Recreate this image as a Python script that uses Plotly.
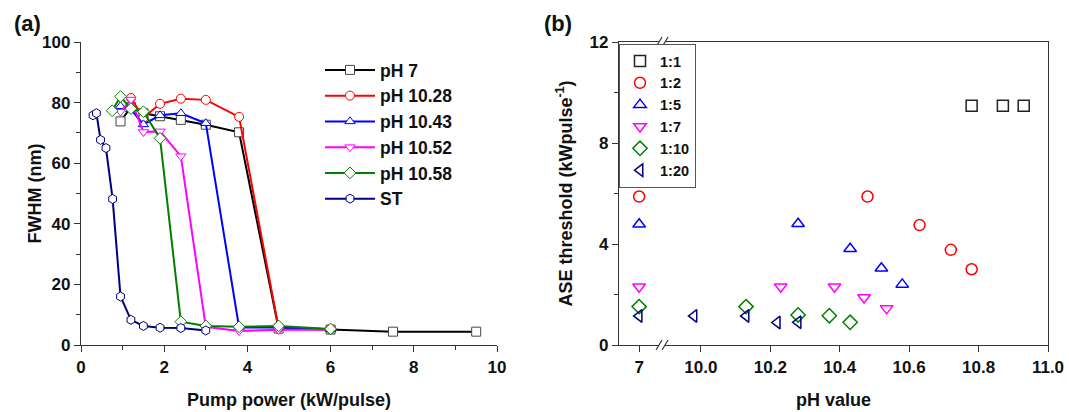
import plotly.graph_objects as go

# ---------------- Panel (a) data ----------------
pump_st = [0.29, 0.37, 0.47, 0.6, 0.76, 0.95, 1.2, 1.5, 1.9, 2.4, 3.0]
fwhm_st = [75.8, 76.5, 67.7, 65.0, 48.2, 16.0, 8.3, 6.3, 5.7, 5.6, 4.8]

pump_ph7 = [0.95, 1.2, 1.5, 1.9, 2.4, 3.0, 3.8, 4.75, 6.0, 7.5, 9.5]
fwhm_ph7 = [73.8, 78.5, 76.5, 75.5, 74.3, 72.7, 70.2, 5.4, 5.1, 4.4, 4.4]

pump_ph1028 = [1.2, 1.5, 1.9, 2.4, 3.0, 3.8, 4.75, 6.0]
fwhm_ph1028 = [81.5, 75.0, 79.6, 81.3, 80.9, 75.3, 5.6, 5.2]

pump_ph1043 = [0.95, 1.2, 1.5, 1.9, 2.4, 3.0, 3.8, 4.75, 6.0]
fwhm_ph1043 = [78.8, 77.8, 72.8, 75.8, 76.5, 73.2, 5.8, 5.8, 5.2]

pump_ph1052 = [0.95, 1.2, 1.5, 1.9, 2.4, 3.0, 3.8, 4.75, 6.0]
fwhm_ph1052 = [77.0, 81.0, 70.3, 70.5, 62.3, 6.0, 4.6, 5.0, 5.0]

pump_ph1058 = [0.75, 0.95, 1.2, 1.5, 1.9, 2.4, 3.0, 3.8, 4.75, 6.0]
fwhm_ph1058 = [77.3, 82.0, 78.0, 77.0, 68.2, 7.7, 6.3, 6.0, 6.3, 5.3]

series_a = [
    ("pH 7", pump_ph7, fwhm_ph7, "#000000", "#444444", "square"),
    ("pH 10.28", pump_ph1028, fwhm_ph1028, "#FF0000", "#FF0000", "circle"),
    ("pH 10.43", pump_ph1043, fwhm_ph1043, "#0000FF", "#0000FF", "triangle-up"),
    ("pH 10.52", pump_ph1052, fwhm_ph1052, "#FF00FF", "#FF00FF", "triangle-down"),
    ("pH 10.58", pump_ph1058, fwhm_ph1058, "#008000", "#008000", "diamond"),
    ("ST", pump_st, fwhm_st, "#000080", "#000080", "hexagon"),
]

# ---------------- Panel (b) data ----------------
ph_11 = [10.78, 10.87, 10.93]
ase_11 = [9.48, 9.48, 9.48]
ph_12 = [7.0, 10.48, 10.63, 10.72, 10.78]
ase_12 = [5.88, 5.88, 4.75, 3.77, 3.0]
ph_15 = [7.0, 10.28, 10.43, 10.52, 10.58]
ase_15 = [4.78, 4.8, 3.81, 3.04, 2.4]
ph_17 = [7.0, 10.23, 10.385, 10.47, 10.535]
ase_17 = [2.31, 2.31, 2.31, 1.88, 1.45]
ph_110 = [7.0, 10.13, 10.28, 10.37, 10.43]
ase_110 = [1.52, 1.52, 1.19, 1.16, 0.9]
ph_120 = [7.0, 9.98, 10.13, 10.22, 10.28]
ase_120 = [1.15, 1.15, 1.15, 0.89, 0.9]

series_b = [
    ("1:1", ph_11, ase_11, "#222222", "square-open"),
    ("1:2", ph_12, ase_12, "#FF0000", "circle-open"),
    ("1:5", ph_15, ase_15, "#0000FF", "triangle-up-open"),
    ("1:7", ph_17, ase_17, "#FF00FF", "triangle-down-open"),
    ("1:10", ph_110, ase_110, "#008000", "diamond-open"),
    ("1:20", ph_120, ase_120, "#000080", "triangle-left-open"),
]

# broken pH axis: the low segment (pH 7) is drawn just left of the break
LOW_PH = 7.0
LOW_POS = 9.822
BREAK_POS = 9.888
X_MIN_B, X_MAX_B = 9.764, 11.0
tick_ph = [7, 10.0, 10.2, 10.4, 10.6, 10.8, 11.0]
tick_txt = ["7", "10.0", "10.2", "10.4", "10.6", "10.8", "11.0"]


def ph_axis(v):
    return LOW_POS + (v - LOW_PH) if v < 9.5 else v


FONT = "Liberation Sans, Arial, sans-serif"
W, H = 1069, 412
ML, MR, MT, MB = 0, 0, 42, 67
PH = H - MT - MB

fig = go.Figure()

for name, xs, ys, lc, mc, sym in series_a:
    fig.add_trace(go.Scatter(
        x=xs, y=ys, mode="lines+markers", name=name,
        line=dict(color=lc, width=2),
        marker=dict(symbol=sym, size=9, color="white",
                    line=dict(color=mc, width=1)),
        xaxis="x", yaxis="y", legend="legend", legendgroup=name,
    ))

for name, xs, ys, c, sym in series_b:
    fig.add_trace(go.Scatter(
        x=[ph_axis(v) for v in xs], y=ys, mode="markers", name=name,
        marker=dict(symbol=sym, size=11, color=c, line=dict(color=c, width=1.5)),
        xaxis="x2", yaxis="y2", legend="legend2",
    ))

tickfont = dict(family=FONT, size=17, color="#111111", weight="bold")
titlefont = dict(family=FONT, size=18, color="#111111", weight="bold")
axcol = "#333333"

common = dict(showline=True, linecolor=axcol, linewidth=1.3, ticks="outside",
              tickcolor=axcol, tickwidth=1.3, ticklen=6, showgrid=False,
              zeroline=False, tickfont=tickfont, automargin=False)

fig.update_layout(
    width=W, height=H,
    margin=dict(l=ML, r=MR, t=MT, b=MB),
    paper_bgcolor="white", plot_bgcolor="white",
    xaxis=dict(domain=[81 / W, 497 / W], range=[0, 10], dtick=2, tick0=0,
               minor=dict(ticks="outside", dtick=1, ticklen=4, tickcolor=axcol),
               title=dict(text="Pump power (kW/pulse)", font=titlefont, standoff=17),
               anchor="y", **common),
    yaxis=dict(domain=[0, 1], range=[0, 100], dtick=20, tick0=0,
               minor=dict(ticks="outside", dtick=10, ticklen=4, tickcolor=axcol),
               anchor="x", **common),
    xaxis2=dict(domain=[619 / W, 1048 / W], range=[X_MIN_B, X_MAX_B],
                tickvals=[ph_axis(v) for v in tick_ph], ticktext=tick_txt,
                mirror=True,
                title=dict(text="pH value", font=titlefont, standoff=17),
                anchor="y2", **common),
    yaxis2=dict(domain=[0, 1], range=[0, 12], dtick=4, tick0=0, mirror=True,
                minor=dict(ticks="outside", dtick=2, ticklen=4, tickcolor=axcol),
                title=dict(text="ASE threshold (kWpulse<sup>-1</sup>)", font=titlefont, standoff=12),
                anchor="x2", **common),
    showlegend=True,
    legend=dict(x=320 / W, xanchor="left", y=(H - MB - 52) / PH, yanchor="top",
                font=dict(family=FONT, size=17.5, color="#111111", weight="bold"),
                bgcolor="rgba(0,0,0,0)", borderwidth=0, tracegroupgap=0,
                itemwidth=50),
    legend2=dict(x=619 / W, xanchor="left", y=(H - MB - 44) / PH, yanchor="top",
                 font=dict(family=FONT, size=14.5, color="#111111", weight="bold"),
                 bgcolor="white", bordercolor="#555555", borderwidth=1,
                 tracegroupgap=0),
    annotations=[
        dict(text="(a)", x=12 / W, y=(H - MB - 24) / PH, xref="paper", yref="paper",
             xanchor="left", yanchor="middle", showarrow=False,
             font=dict(family=FONT, size=22, color="#111111", weight="bold")),
        dict(text="(b)", x=542 / W, y=(H - MB - 24) / PH, xref="paper", yref="paper",
             xanchor="left", yanchor="middle", showarrow=False,
             font=dict(family=FONT, size=22, color="#111111", weight="bold")),
        dict(text="FWHM (nm)", x=34 / W, y=0.5, xref="paper", yref="paper",
             xanchor="center", yanchor="middle", textangle=-90, showarrow=False,
             font=titlefont),
    ],
)

# axis-break marks on bottom and top of panel (b)
shapes = []
for yp in (0, 1):
    shapes.append(dict(type="line", xref="x2", yref="paper", xsizemode="pixel",
                       ysizemode="pixel", xanchor=BREAK_POS, yanchor=yp,
                       x0=-3, x1=3, y0=0, y1=0, line=dict(color="white", width=3)))
    for off in (-3, 3):
        shapes.append(dict(type="line", xref="x2", yref="paper", xsizemode="pixel",
                           ysizemode="pixel", xanchor=BREAK_POS, yanchor=yp,
                           x0=off - 3, x1=off + 3, y0=-5, y1=5,
                           line=dict(color=axcol, width=1.2)))
fig.update_layout(shapes=shapes)

fig.write_html("out.html", config={"displayModeBar": False},
               post_script="document.body.style.margin='0px';")
